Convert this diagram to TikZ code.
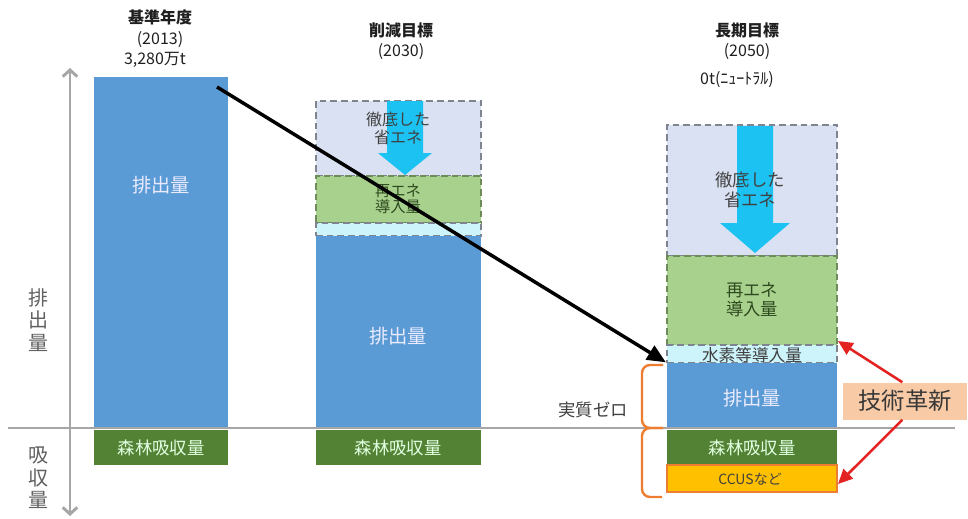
\documentclass[tikz,border=0pt]{standalone}
\usepackage{fontspec}
\setmainfont{Noto Sans CJK JP}
\usetikzlibrary{arrows.meta,fit}
\definecolor{barblue}{HTML}{5B9BD5}
\definecolor{forest}{HTML}{548235}
\definecolor{lgreen}{HTML}{A9D18E}
\definecolor{lav}{HTML}{DAE1F2}
\definecolor{lcyan}{HTML}{CDF3FB}
\definecolor{arrcyan}{HTML}{1CC3F2}
\definecolor{ccus}{HTML}{FFC000}
\definecolor{orng}{HTML}{ED7D31}
\definecolor{peach}{HTML}{F8CBA6}
\definecolor{axisgray}{HTML}{A6A6A6}
\definecolor{redarr}{HTML}{E32222}
\definecolor{dashgray}{HTML}{7F8590}
\definecolor{dashgreen}{HTML}{6E8C5A}
\definecolor{txtgray}{HTML}{404040}
\definecolor{txtgreen}{HTML}{2E4A1E}
\newcommand{\fsz}[2]{\fontsize{#1}{#2}\selectfont}
\begin{document}
\begin{tikzpicture}[x=0.75pt,y=-0.75pt,
  bx/.style={inner sep=0pt, outer sep=0pt},
  dbox/.style={bx, draw=#1, line width=1.2pt, dash pattern=on 5pt off 3pt},
  lbl/.style={inner sep=0pt, align=center},
  ttl/.style={lbl, font=\fsz{12}{14}\bfseries, text=black!88},
  wtxt/.style={lbl, font=\fsz{14.5}{16}, text=white!92!blue},
  ftxt/.style={lbl, font=\fsz{13}{15}, text=white!88!green},
  etxt/.style={lbl, text=txtgray},
  gtxt/.style={lbl, text=txtgreen},
  axlbl/.style={lbl, font=\fsz{15}{17}, text=black!62},
  cyarrow/.style={fill=arrcyan, draw=none},
  axisln/.style={draw=axisgray, line width=2.2pt},
  blkarrow/.style={draw=black, line width=2.6pt, -{Triangle[length=14pt,width=12pt]}},
  redarrow/.style={draw=redarr, line width=1.9pt, -{Triangle[length=11pt,width=10pt]}},
  brace/.style={draw=orng, line width=1.8pt, rounded corners=6pt}
]
\useasboundingbox (0,0) rectangle (968,518);

% ---- titles
\node[ttl] (t1a) at (160,17) {基準年度};
\node[ttl, font=\fsz{12}{14}] (t1b) at (160,40) {(2013)};
\node[ttl, font=\fsz{12}{14}] (t1c) at (155,60) {3,280万t};
\node[ttl] (t2a) at (401,30) {削減目標};
\node[ttl, font=\fsz{12}{14}] (t2b) at (401,52) {(2030)};
\node[ttl] (t3a) at (747,30) {長期目標};
\node[ttl, font=\fsz{12}{14}] (t3b) at (747,52) {(2050)};
\node[ttl, font=\fsz{12}{14}] (t3c) at (737,80) {0t(ﾆｭｰﾄﾗﾙ)};

% ---- bar 1
\node[bx, fill=barblue, fit={(94,77)(228,427)}] (b1e) {};
\node[bx, fill=forest, fit={(94,430)(228,465)}] (b1f) {};
\node[wtxt] (b1et) at (161,185) {排出量};
\node[ftxt] (b1ft) at (161,448) {森林吸収量};

% ---- bar 2
\node[dbox=dashgray, fill=lav, fit={(316,101)(481,176)}] (b2s) {};
\node[dbox=dashgreen, fill=lgreen, fit={(316,176)(481,223)}] (b2r) {};
\node[dbox=dashgray, fill=lcyan, fit={(316,223)(481,236)}] (b2h) {};
\node[bx, fill=barblue, fit={(316,236)(481,427)}] (b2e) {};
\node[bx, fill=forest, fit={(316,430)(481,465)}] (b2f) {};
\fill[cyarrow] (387,101) -- (423,101) -- (423,153) -- (432,153) -- (405,175) -- (378,153) -- (387,153) -- cycle;
\node[etxt, font=\fsz{12}{13.5}] (b2st) at (398,128) {徹底した\\省エネ};
\node[gtxt, font=\fsz{11.5}{11.5}] (b2rt) at (398,199) {再エネ\\導入量};
\node[wtxt] (b2et) at (398,336) {排出量};
\node[ftxt] (b2ft) at (398,448) {森林吸収量};

% ---- bar 3
\node[dbox=dashgray, fill=lav, fit={(667,125)(837,256)}] (b3s) {};
\node[dbox=dashgreen, fill=lgreen, fit={(667,256)(837,345)}] (b3r) {};
\node[dbox=dashgray, fill=lcyan, fit={(667,345)(837,363)}] (b3h) {};
\node[bx, fill=barblue, fit={(667,363)(837,427)}] (b3e) {};
\node[bx, fill=forest, fit={(667,430)(837,464)}] (b3f) {};
\node[bx, fill=ccus, draw=orng, line width=1.2pt, fit={(667,465)(837,492)}] (b3c) {};
\fill[cyarrow] (737,126) -- (773,126) -- (773,223) -- (790,223) -- (755,253) -- (720,223) -- (737,223) -- cycle;
\node[etxt, font=\fsz{13}{14.5}] (b3st) at (750,190) {徹底した\\省エネ};
\node[gtxt, font=\fsz{13}{14.5}] (b3rt) at (752,300) {再エネ\\導入量};
\node[etxt, font=\fsz{12.5}{13}] (b3ht) at (752,355) {水素等導入量};
\node[wtxt] (b3et) at (752,398) {排出量};
\node[ftxt] (b3ft) at (752,448) {森林吸収量};
\node[lbl, font=\fsz{10.5}{12}, text=black!75] (b3ct) at (750,479) {CCUSなど};

% ---- axes
\coordinate (axtop) at (70,68);
\coordinate (axbot) at (70,516);
\coordinate (blL) at (8,428);
\coordinate (blR) at (955,428);
\draw[axisln, {Straight Barb[length=5pt,width=11pt]}-{Straight Barb[length=5pt,width=11pt]}] (axtop) -- (axbot);
\draw[axisln] (blL) -- (blR);
\node[axlbl] (yl1) at (38,320) {排\\出\\量};
\node[axlbl] (yl2) at (38,478) {吸\\収\\量};

% ---- brace and label
\draw[brace] (663,365) -- (642,365) -- (642,428) -- (663,428);
\draw[brace] (663,428) -- (642,428) -- (642,497) -- (662,497);
\node[lbl, font=\fsz{13}{14}, text=txtgray] (zero) at (593,410) {実質ゼロ};

% ---- technology box and arrows
\node[fill=peach, minimum width=93pt, minimum height=27.75pt, inner sep=0pt,
      font=\fsz{17.5}{19}, text=black!78] (tech) at (905,401) {技術革新};
\coordinate (r1) at (838,341);
\coordinate (r2) at (838,484);
\draw[redarrow] ([xshift=-2pt]tech.north) -- (r1);
\draw[redarrow] ([xshift=-2pt]tech.south) -- (r2);

% ---- black arrow
\coordinate (bstart) at (217,87);
\draw[blkarrow, shorten >=1pt] (bstart) -- (b3e.north west);
\end{tikzpicture}
\end{document}
